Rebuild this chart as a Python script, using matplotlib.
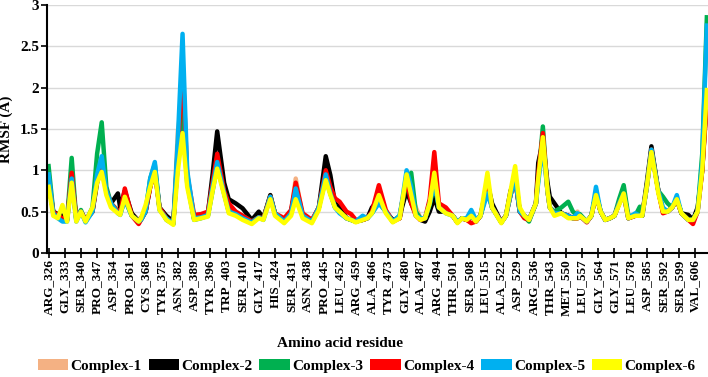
import matplotlib
matplotlib.use("Agg")
import matplotlib.pyplot as plt
from matplotlib.patches import Patch

plt.rcParams['font.family'] = ['Liberation Serif', 'DejaVu Serif']
plt.rcParams['font.weight'] = 'bold'

residues = [326, 328, 330, 332, 334, 336, 338, 340, 342, 345,
            347, 349, 351, 353, 356, 357, 359, 362, 365, 366,
            368, 370, 372, 374, 377, 380, 382, 384, 386, 389,
            392, 395, 397, 399, 402, 404, 407, 410, 414, 417,
            419, 422, 424, 428, 431, 433, 436, 440, 443, 446,
            448, 450, 452, 455, 457, 459, 462, 464, 466, 469,
            472, 475, 478, 479, 481, 483, 485, 487, 489, 491,
            493, 495, 498, 501, 503, 505, 507, 509, 511, 513,
            516, 518, 522, 524, 526, 528, 530, 532, 534, 537,
            538, 540, 542, 543, 545, 548, 551, 553, 555, 556,
            559, 561, 563, 565, 567, 569, 571, 573, 575, 577,
            580, 582, 583, 585, 587, 590, 592, 594, 596, 598,
            600, 603, 605, 607, 609, 611]

complex_1 = [0.85, 0.50, 0.45, 0.42, 0.40, 0.90, 0.42, 0.50, 0.40, 0.50,
             0.90, 1.00, 0.75, 0.60, 0.52, 0.50, 0.68, 0.48, 0.40, 0.42,
             0.50, 0.80, 1.00, 0.55, 0.42, 0.36, 1.48, 1.90, 0.90, 0.42,
             0.44, 0.45, 0.80, 1.10, 0.75, 0.55, 0.50, 0.45, 0.38, 0.45,
             0.42, 0.70, 0.48, 0.38, 0.50, 0.90, 0.45, 0.38, 0.55, 1.00,
             0.75, 0.60, 0.55, 0.42, 0.40, 0.38, 0.40, 0.42, 0.50, 0.70,
             0.50, 0.38, 0.42, 0.60, 0.85, 0.70, 0.55, 0.42, 0.42, 0.60,
             0.90, 0.55, 0.50, 0.45, 0.38, 0.42, 0.40, 0.45, 0.38, 0.45,
             0.80, 0.55, 0.37, 0.45, 0.70, 0.90, 0.50, 0.45, 0.40, 0.60,
             0.90, 1.35, 0.75, 0.55, 0.50, 0.48, 0.45, 0.42, 0.50, 0.45,
             0.38, 0.45, 0.72, 0.50, 0.40, 0.42, 0.45, 0.60, 0.70, 0.42,
             0.45, 0.45, 0.45, 0.80, 1.25, 0.75, 0.50, 0.50, 0.55, 0.65,
             0.48, 0.40, 0.40, 0.50, 1.00, 1.80]

complex_2 = [0.85, 0.50, 0.47, 0.45, 0.40, 0.95, 0.40, 0.50, 0.40, 0.50,
             0.85, 1.05, 0.75, 0.60, 0.72, 0.55, 0.75, 0.48, 0.38, 0.42,
             0.50, 0.80, 1.00, 0.55, 0.45, 0.38, 1.10, 2.05, 0.90, 0.42,
             0.45, 0.48, 0.95, 1.47, 0.85, 0.65, 0.60, 0.54, 0.40, 0.50,
             0.42, 0.70, 0.48, 0.38, 0.50, 0.80, 0.45, 0.38, 0.55, 1.17,
             0.94, 0.60, 0.55, 0.42, 0.40, 0.38, 0.40, 0.42, 0.55, 0.65,
             0.50, 0.40, 0.42, 0.55, 0.75, 0.60, 0.48, 0.40, 0.38, 0.50,
             0.67, 0.50, 0.50, 0.45, 0.37, 0.42, 0.40, 0.45, 0.38, 0.45,
             0.85, 0.60, 0.37, 0.45, 0.75, 0.90, 0.50, 0.45, 0.40, 0.60,
             1.09, 1.35, 0.85, 0.68, 0.60, 0.48, 0.45, 0.42, 0.42, 0.45,
             0.38, 0.45, 0.72, 0.50, 0.40, 0.42, 0.45, 0.60, 0.75, 0.42,
             0.45, 0.45, 0.45, 0.85, 1.29, 0.75, 0.50, 0.50, 0.55, 0.65,
             0.48, 0.46, 0.40, 0.55, 1.00, 1.90]

complex_3 = [1.05, 0.50, 0.43, 0.40, 0.40, 1.15, 0.40, 0.52, 0.38, 0.55,
             1.20, 1.58, 0.80, 0.60, 0.50, 0.47, 0.65, 0.45, 0.38, 0.40,
             0.50, 0.90, 1.07, 0.55, 0.40, 0.35, 1.30, 1.70, 0.85, 0.40,
             0.42, 0.45, 0.75, 1.05, 0.72, 0.50, 0.48, 0.45, 0.38, 0.43,
             0.42, 0.68, 0.48, 0.38, 0.48, 0.68, 0.45, 0.38, 0.55, 0.90,
             0.72, 0.55, 0.50, 0.42, 0.40, 0.38, 0.40, 0.42, 0.48, 0.62,
             0.50, 0.38, 0.45, 0.60, 0.85, 0.97, 0.50, 0.42, 0.42, 0.58,
             0.85, 0.55, 0.50, 0.45, 0.37, 0.42, 0.40, 0.45, 0.38, 0.45,
             0.78, 0.55, 0.37, 0.45, 0.70, 0.95, 0.50, 0.44, 0.38, 0.60,
             0.90, 1.53, 0.75, 0.55, 0.50, 0.55, 0.62, 0.50, 0.45, 0.47,
             0.38, 0.45, 0.72, 0.50, 0.40, 0.42, 0.45, 0.65, 0.82, 0.45,
             0.45, 0.56, 0.45, 0.80, 1.25, 0.75, 0.68, 0.60, 0.55, 0.65,
             0.48, 0.40, 0.40, 0.50, 1.20, 2.85]

complex_4 = [0.90, 0.50, 0.45, 0.42, 0.40, 0.97, 0.42, 0.50, 0.40, 0.50,
             0.90, 1.05, 0.75, 0.60, 0.50, 0.48, 0.78, 0.45, 0.35, 0.40,
             0.50, 0.80, 1.00, 0.55, 0.42, 0.36, 1.25, 2.30, 0.95, 0.46,
             0.47, 0.50, 0.85, 1.20, 0.75, 0.60, 0.50, 0.45, 0.38, 0.43,
             0.42, 0.68, 0.48, 0.42, 0.52, 0.85, 0.48, 0.40, 0.55, 1.00,
             0.80, 0.66, 0.62, 0.50, 0.47, 0.40, 0.40, 0.42, 0.50, 0.82,
             0.52, 0.38, 0.42, 0.60, 0.90, 0.60, 0.45, 0.40, 0.42, 0.65,
             1.22, 0.60, 0.55, 0.45, 0.37, 0.42, 0.40, 0.36, 0.38, 0.45,
             0.80, 0.55, 0.38, 0.45, 0.70, 0.90, 0.50, 0.42, 0.40, 0.60,
             0.95, 1.45, 0.75, 0.55, 0.48, 0.48, 0.45, 0.42, 0.42, 0.45,
             0.37, 0.45, 0.72, 0.50, 0.40, 0.42, 0.45, 0.60, 0.70, 0.42,
             0.45, 0.45, 0.45, 0.80, 1.25, 0.75, 0.48, 0.50, 0.55, 0.65,
             0.48, 0.40, 0.35, 0.50, 1.00, 1.85]

complex_5 = [0.95, 0.48, 0.42, 0.38, 0.38, 0.90, 0.38, 0.50, 0.37, 0.50,
             0.95, 1.17, 0.75, 0.60, 0.48, 0.46, 0.65, 0.45, 0.38, 0.40,
             0.50, 0.90, 1.10, 0.52, 0.42, 0.35, 1.40, 2.65, 1.00, 0.42,
             0.43, 0.46, 0.80, 1.10, 0.72, 0.50, 0.47, 0.42, 0.37, 0.43,
             0.40, 0.68, 0.48, 0.38, 0.48, 0.78, 0.45, 0.38, 0.55, 0.95,
             0.72, 0.55, 0.48, 0.42, 0.40, 0.38, 0.45, 0.42, 0.48, 0.60,
             0.50, 0.38, 0.45, 0.62, 1.00, 0.80, 0.45, 0.42, 0.42, 0.60,
             0.85, 0.55, 0.48, 0.45, 0.38, 0.42, 0.42, 0.52, 0.40, 0.45,
             0.72, 0.55, 0.37, 0.45, 0.70, 0.90, 0.50, 0.45, 0.40, 0.60,
             0.85, 1.30, 0.75, 0.55, 0.48, 0.48, 0.45, 0.42, 0.48, 0.45,
             0.38, 0.45, 0.80, 0.50, 0.40, 0.42, 0.45, 0.60, 0.72, 0.42,
             0.48, 0.45, 0.45, 0.80, 1.25, 0.75, 0.55, 0.50, 0.55, 0.70,
             0.48, 0.40, 0.40, 0.50, 1.10, 2.75]

complex_6 = [0.80, 0.45, 0.42, 0.58, 0.38, 0.85, 0.38, 0.50, 0.38, 0.55,
             0.85, 0.98, 0.70, 0.55, 0.48, 0.46, 0.68, 0.45, 0.38, 0.42,
             0.58, 0.80, 0.98, 0.52, 0.40, 0.34, 1.00, 1.45, 0.80, 0.40,
             0.42, 0.44, 0.75, 1.02, 0.70, 0.48, 0.45, 0.40, 0.35, 0.42,
             0.40, 0.65, 0.45, 0.36, 0.45, 0.65, 0.42, 0.36, 0.52, 0.88,
             0.70, 0.55, 0.50, 0.42, 0.40, 0.37, 0.40, 0.42, 0.48, 0.70,
             0.48, 0.37, 0.42, 0.60, 0.95, 0.70, 0.45, 0.40, 0.42, 0.60,
             0.97, 0.55, 0.48, 0.45, 0.36, 0.42, 0.40, 0.45, 0.38, 0.45,
             0.97, 0.55, 0.36, 0.45, 0.75, 1.05, 0.55, 0.45, 0.40, 0.60,
             0.90, 1.40, 0.75, 0.55, 0.45, 0.48, 0.42, 0.42, 0.42, 0.45,
             0.38, 0.45, 0.70, 0.50, 0.40, 0.42, 0.45, 0.58, 0.72, 0.42,
             0.45, 0.45, 0.45, 0.80, 1.22, 0.72, 0.50, 0.50, 0.55, 0.65,
             0.48, 0.40, 0.40, 0.50, 1.00, 1.97]

series_names = ['Complex-1', 'Complex-2', 'Complex-3', 'Complex-4', 'Complex-5', 'Complex-6']
series_colors = ['#F4B183', '#000000', '#00B050', '#FF0000', '#00B0F0', '#FFFF00']

tick_names = ['ARG_326', 'GLY_333', 'SER_340', 'PRO_347', 'ASP_354', 'PRO_361',
              'CYS_368', 'TYR_375', 'ASN_382', 'ASP_389', 'TYR_396', 'TRP_403',
              'SER_410', 'GLY_417', 'HIS_424', 'SER_431', 'ASN_438', 'PRO_445',
              'LEU_452', 'ARG_459', 'ALA_466', 'TYR_473', 'GLY_480', 'ALA_487',
              'ARG_494', 'THR_501', 'SER_508', 'LEU_515', 'ALA_522', 'ASP_529',
              'ARG_536', 'THR_543', 'MET_550', 'LEU_557', 'GLY_564', 'GLY_571',
              'LEU_578', 'ASP_585', 'SER_592', 'SER_599', 'VAL_606']

fig = plt.figure(figsize=(7.08, 3.77), dpi=100)
ax = fig.add_axes([0.067, 0.329, 0.933, 0.658])

all_series = [complex_1, complex_2, complex_3, complex_4, complex_5, complex_6]
for vals, name, col in zip(all_series, series_names, series_colors):
    ax.plot(residues, vals, color=col, lw=3.2, label=name, solid_joinstyle='round')

ax.set_xlim(325.5, 611.5)
ax.set_ylim(0, 3)
ax.set_yticks([0, 0.5, 1, 1.5, 2, 2.5, 3])
ax.set_yticklabels(['0', '0.5', '1', '1.5', '2', '2.5', '3'], fontsize=11, fontweight='bold')
tick_pos = [int(t.split('_')[1]) for t in tick_names]
ax.set_xticks(tick_pos)
ax.set_xticklabels(tick_names, rotation=90, fontsize=9.5, fontweight='bold')
ax.tick_params(axis='x', direction='inout', length=7, width=1.2, pad=1)
ax.tick_params(axis='y', direction='out', length=4, width=1.2, pad=2)

ax.grid(axis='y', color='#D9D9D9', lw=1)
ax.set_axisbelow(True)
for s in ['top', 'right']:
    ax.spines[s].set_visible(False)
for s in ['left', 'bottom']:
    ax.spines[s].set_linewidth(1.5)
    ax.spines[s].set_color('black')

ax.set_ylabel('RMSF (Å)', fontsize=11, fontweight='bold', labelpad=4)
fig.text(0.48, 0.09, 'Amino acid residue', ha='center', va='center',
         fontsize=11, fontweight='bold')

handles = [Patch(facecolor=c, edgecolor='none') for c in series_colors]
fig.legend(handles, series_names, loc='center', bbox_to_anchor=(0.518, 0.03),
           ncol=6, frameon=False, handlelength=2.0, handleheight=0.8,
           handletextpad=0.15, columnspacing=0.45, prop={'weight': 'bold', 'size': 11})

fig.savefig('out.png', dpi=100)
